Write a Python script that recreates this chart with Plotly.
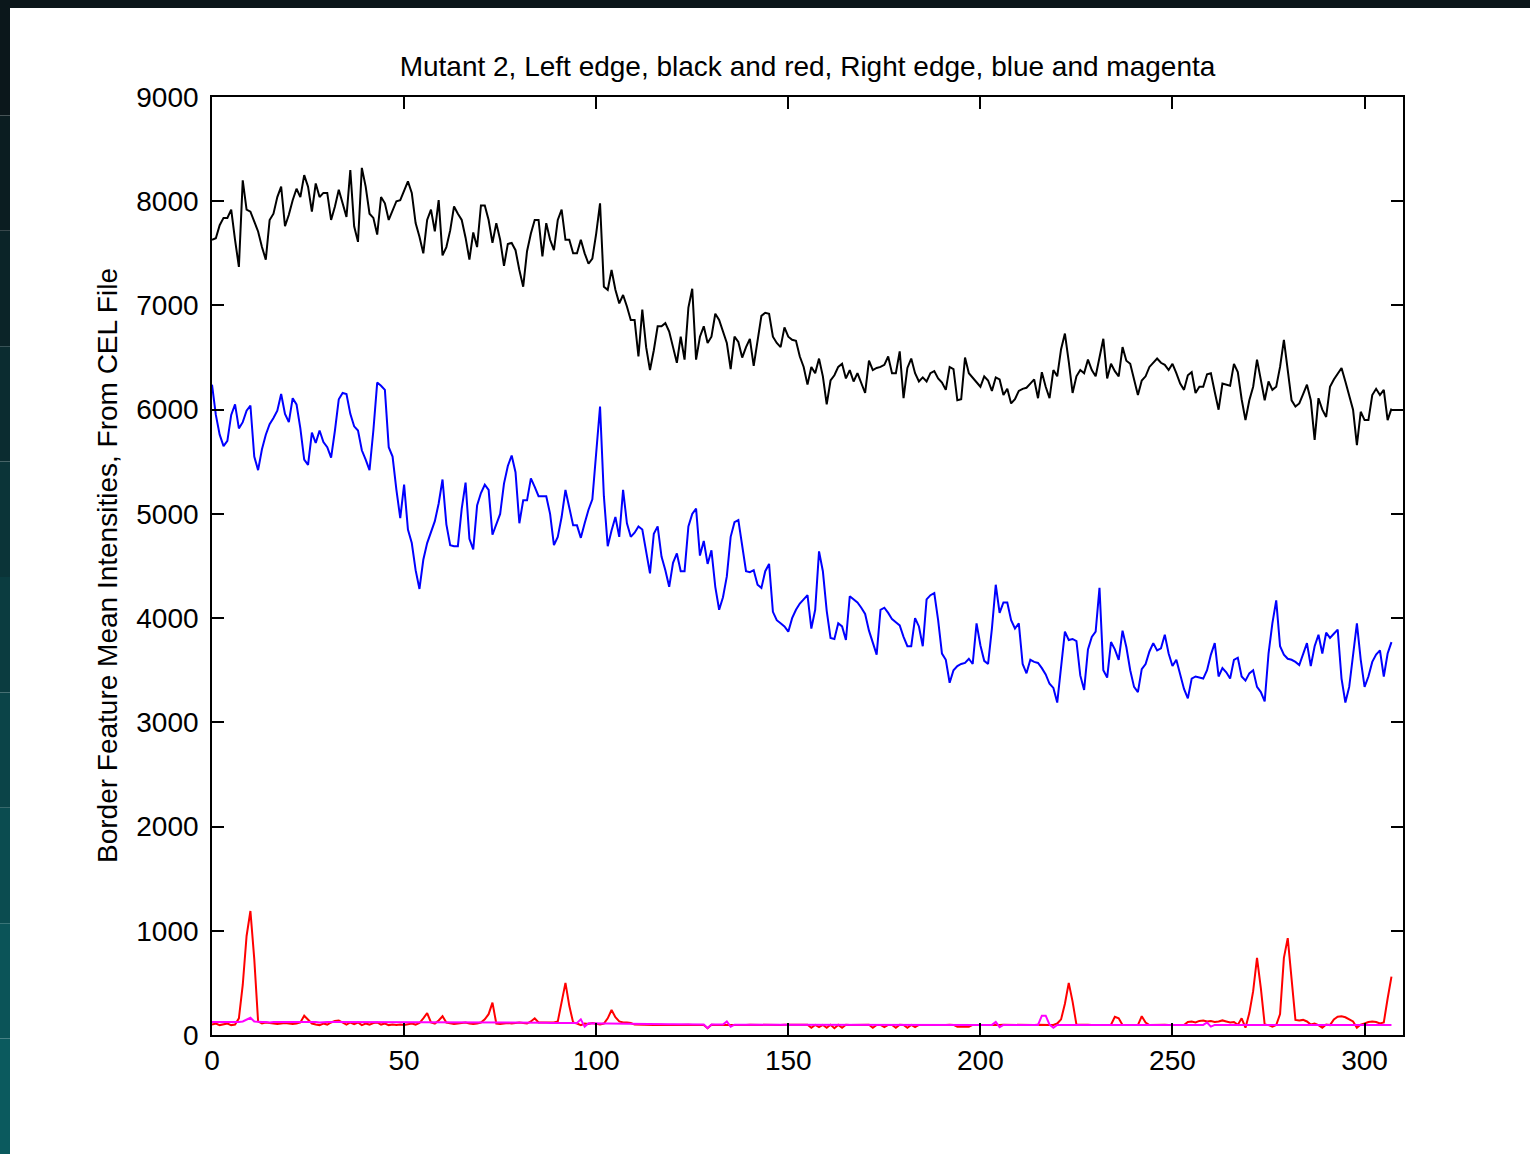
import plotly.graph_objects as go

# Border feature mean intensities along the chip edge (sample index 0..307)
left_edge_mean = [
    7630, 7645, 7770, 7840, 7840, 7920, 7630, 7370, 8200, 7920,
    7900, 7800, 7710, 7560, 7440, 7820, 7880, 8040, 8140, 7760,
    7870, 8010, 8120, 8040, 8250, 8140, 7900, 8170, 8040, 8080,
    8080, 7820, 7950, 8110, 7980, 7850, 8300, 7760, 7610, 8320,
    8140, 7880, 7840, 7680, 8040, 7980, 7820, 7920, 8000, 8010,
    8110, 8190, 8080, 7790, 7660, 7500, 7820, 7920, 7710, 8010,
    7480, 7560, 7720, 7950, 7880, 7820, 7650, 7440, 7700, 7560,
    7960, 7960, 7820, 7600, 7790, 7630, 7380, 7590, 7600, 7530,
    7340, 7180, 7520, 7690, 7820, 7820, 7470, 7790, 7630, 7530,
    7820, 7920, 7630, 7630, 7500, 7500, 7630, 7500, 7400, 7450,
    7690, 7980, 7180, 7150, 7340, 7150, 7020, 7100, 6990, 6860,
    6860, 6510, 6960, 6600, 6380, 6570, 6800, 6800, 6830, 6750,
    6600, 6450, 6700, 6480, 6980, 7160, 6480, 6700, 6800, 6640,
    6700, 6920, 6860, 6760, 6640, 6390, 6700, 6650, 6500, 6600,
    6680, 6420, 6640, 6900, 6930, 6920, 6700, 6640, 6600, 6790,
    6700, 6670, 6660, 6510, 6410, 6240, 6410, 6350, 6490, 6320,
    6050, 6280, 6330, 6410, 6440, 6300, 6380, 6270, 6350, 6250,
    6160, 6470, 6380, 6400, 6410, 6430, 6510, 6350, 6350, 6560,
    6110, 6400, 6490, 6350, 6270, 6310, 6270, 6350, 6370, 6300,
    6260, 6190, 6410, 6390, 6090, 6100, 6500, 6350, 6310, 6260,
    6220, 6320, 6280, 6180, 6310, 6290, 6140, 6200, 6060, 6100,
    6180, 6200, 6210, 6250, 6290, 6110, 6360, 6220, 6110, 6380,
    6320, 6580, 6730, 6460, 6160, 6320, 6380, 6350, 6480, 6380,
    6320, 6500, 6680, 6300, 6440, 6370, 6320, 6600, 6470, 6440,
    6300, 6140, 6280, 6320, 6410, 6450, 6490, 6450, 6430, 6380,
    6440, 6350, 6250, 6190, 6330, 6360, 6160, 6220, 6220, 6340,
    6350, 6170, 6000, 6250, 6240, 6230, 6440, 6360, 6100, 5900,
    6090, 6220, 6480, 6280, 6090, 6270, 6190, 6220, 6410, 6670,
    6380, 6090, 6030, 6060, 6150, 6240, 6090, 5710, 6110, 6000,
    5930, 6220, 6290, 6350, 6400, 6270, 6120, 6000, 5660, 5980,
    5900, 5900, 6140, 6200, 6140, 6190, 5900, 6010,
]

right_edge_mean = [
    6240, 5950, 5760, 5650, 5700, 5950, 6050, 5820, 5880, 5990,
    6040, 5550, 5420, 5620, 5760, 5860, 5920, 5990, 6150, 5960,
    5880, 6110, 6050, 5820, 5520, 5470, 5780, 5680, 5800, 5690,
    5640, 5540, 5800, 6100, 6160, 6150, 5960, 5840, 5800, 5610,
    5520, 5420, 5800, 6260, 6230, 6190, 5640, 5550, 5230, 4960,
    5280, 4850, 4720, 4460, 4280, 4560, 4720, 4820, 4930, 5100,
    5330, 4900, 4700, 4690, 4690, 5050, 5300, 4760, 4660, 5080,
    5200, 5280, 5230, 4800, 4900, 5000, 5290, 5460, 5560, 5400,
    4910, 5130, 5130, 5340, 5260, 5170, 5170, 5170, 5000, 4700,
    4780, 4970, 5230, 5070, 4890, 4890, 4770, 4910, 5040, 5140,
    5580, 6030, 5170, 4690, 4840, 4970, 4780, 5230, 4910, 4780,
    4820, 4880, 4850, 4620, 4430, 4810, 4880, 4590, 4460, 4300,
    4530, 4620, 4450, 4450, 4880, 5000, 5050, 4600, 4740, 4520,
    4650, 4300, 4080, 4200, 4400, 4780, 4920, 4940, 4700, 4450,
    4440, 4460, 4320, 4290, 4450, 4520, 4060, 3980, 3950, 3920,
    3870, 4000, 4080, 4140, 4180, 4220, 3900, 4080, 4640, 4450,
    4070, 3810, 3800, 3950, 3920, 3790, 4210, 4180, 4150, 4100,
    4040, 3880, 3760, 3650, 4080, 4100, 4050, 3990, 3960, 3930,
    3820, 3730, 3730, 4000, 3920, 3730, 4180, 4220, 4240, 3980,
    3660, 3600, 3380, 3500, 3540, 3560, 3570, 3610, 3560, 3950,
    3740, 3590, 3560, 3900, 4320, 4050, 4150, 4150, 3980, 3900,
    3950, 3560, 3470, 3600, 3580, 3570, 3520, 3460, 3370, 3330,
    3190, 3550, 3870, 3790, 3800, 3780, 3450, 3310, 3700, 3820,
    3870, 4290, 3500, 3430, 3770, 3700, 3600, 3880, 3720, 3500,
    3340, 3290, 3510, 3560, 3680, 3760, 3690, 3710, 3840, 3660,
    3540, 3600, 3460, 3320, 3230, 3420, 3440, 3430, 3420, 3500,
    3650, 3760, 3440, 3520, 3480, 3420, 3600, 3620, 3440, 3400,
    3470, 3500, 3340, 3290, 3200, 3660, 3950, 4170, 3730, 3650,
    3610, 3600, 3580, 3550, 3660, 3760, 3540, 3730, 3840, 3660,
    3860, 3810, 3850, 3890, 3420, 3190, 3340, 3630, 3950, 3600,
    3340, 3440, 3580, 3650, 3690, 3440, 3660, 3770,
]

left_edge_bg = [
    100, 110, 95, 100, 110, 95, 100, 160, 480, 950,
    1190, 730, 130, 110, 120, 115, 110, 105, 110, 115,
    110, 105, 110, 120, 185, 150, 110, 100, 95, 110,
    100, 120, 135, 140, 120, 100, 120, 105, 120, 95,
    110, 100, 115, 120, 100, 110, 95, 100, 95, 100,
    95, 100, 110, 100, 115, 160, 210, 120, 110, 140,
    180, 120, 110, 105, 110, 115, 120, 110, 105, 110,
    120, 150, 200, 310, 110, 105, 110, 115, 110, 115,
    120, 115, 110, 130, 160, 120, 120, 125, 120, 120,
    130, 330, 500, 280, 120, 110, 95, 110, 105, 115,
    110, 100, 110, 160, 240, 170, 130, 120, 120, 115,
    100, 98, 95, 100, 97, 96, 98, 100, 97, 95,
    98, 97, 96, 100, 98, 97, 95, 98, 97, 65,
    98, 97, 96, 98, 100, 97, 95, 98, 97, 96,
    98, 97, 96, 98, 97, 95, 98, 97, 96, 98,
    97, 95, 98, 97, 96, 98, 70, 97, 75, 96,
    70, 98, 65, 97, 70, 98, 97, 96, 98, 97,
    95, 98, 70, 97, 96, 75, 97, 96, 70, 98,
    97, 70, 96, 75, 97, 96, 98, 97, 95, 98,
    97, 96, 98, 97, 80, 80, 82, 80, 97, 96,
    98, 97, 96, 98, 97, 95, 98, 97, 96, 98,
    97, 95, 98, 97, 96, 98, 100, 100, 97, 96,
    110, 150, 300, 500, 320, 100, 97, 96, 98, 97,
    95, 98, 97, 96, 98, 175, 160, 97, 96, 98,
    97, 95, 180, 120, 96, 98, 97, 95, 98, 97,
    96, 98, 97, 95, 125, 130, 120, 135, 140, 130,
    135, 125, 130, 140, 130, 120, 125, 97, 160, 70,
    210, 420, 740, 450, 100, 95, 80, 95, 200, 740,
    930, 560, 145, 140, 145, 130, 100, 110, 95, 70,
    100, 95, 150, 175, 180, 170, 150, 130, 70, 100,
    110, 125, 130, 125, 110, 120, 350, 560,
]

right_edge_bg = [
    125, 125, 120, 125, 125, 120, 125, 125, 130, 150,
    165, 130, 125, 125, 125, 120, 125, 125, 125, 125,
    125, 125, 125, 130, 125, 125, 125, 125, 120, 125,
    125, 125, 125, 125, 125, 125, 125, 120, 125, 125,
    125, 125, 125, 125, 125, 125, 125, 125, 125, 125,
    120, 120, 120, 120, 120, 120, 120, 120, 120, 120,
    120, 120, 120, 120, 120, 120, 120, 120, 120, 120,
    118, 118, 118, 118, 118, 118, 118, 118, 118, 118,
    118, 118, 118, 118, 118, 118, 118, 118, 115, 115,
    115, 115, 115, 115, 115, 115, 150, 80, 112, 110,
    110, 110, 110, 110, 110, 108, 108, 108, 108, 108,
    105, 105, 105, 105, 105, 103, 103, 103, 103, 103,
    102, 102, 102, 102, 101, 101, 101, 100, 100, 65,
    100, 100, 100, 100, 130, 80, 99, 99, 99, 99,
    98, 98, 98, 98, 98, 98, 98, 98, 98, 98,
    98, 98, 98, 98, 98, 98, 98, 98, 98, 98,
    97, 97, 97, 97, 97, 97, 97, 97, 97, 97,
    97, 97, 97, 97, 97, 97, 97, 97, 97, 97,
    97, 97, 97, 97, 97, 97, 97, 97, 97, 97,
    97, 97, 97, 97, 97, 97, 97, 97, 97, 97,
    97, 97, 97, 97, 125, 75, 97, 97, 97, 97,
    97, 97, 97, 97, 97, 97, 185, 185, 100, 70,
    97, 97, 97, 97, 97, 97, 97, 97, 97, 97,
    97, 97, 97, 97, 97, 97, 97, 97, 97, 97,
    97, 97, 97, 97, 97, 97, 97, 97, 97, 97,
    97, 97, 97, 97, 97, 97, 97, 97, 97, 120,
    80, 97, 97, 97, 97, 97, 97, 97, 97, 97,
    97, 97, 97, 97, 97, 97, 97, 97, 97, 97,
    97, 97, 97, 97, 97, 97, 97, 97, 97, 97,
    97, 97, 97, 97, 97, 97, 97, 97, 97, 97,
    97, 97, 97, 97, 97, 97, 97, 97,
]

x_ticks = [0, 50, 100, 150, 200, 250, 300]
y_ticks = [0, 1000, 2000, 3000, 4000, 5000, 6000, 7000, 8000, 9000]

title_text = "Mutant 2, Left edge, black and red, Right edge, blue and magenta"
ylabel_text = "Border Feature Mean Intensities, From CEL File"

W, H = 1530, 1154
L, R, T, B = 212, 127, 97, 119
PW, PH = W - L - R, H - T - B

FONT = "Liberation Sans"

fig = go.Figure()
series = [
    (left_edge_mean, "#000000"),
    (right_edge_mean, "#0000ff"),
    (left_edge_bg, "#ff0000"),
    (right_edge_bg, "#ff00ff"),
]
for vals, col in series:
    fig.add_trace(go.Scatter(
        x=list(range(len(vals))), y=vals, mode="lines",
        line=dict(color=col, width=2), hoverinfo="skip", showlegend=False,
    ))


def px_x(p):
    return (p - L) / PW


def px_y(p):
    return (H - B - p) / PH


# dark window frame along the top and left edges
shapes = [
    dict(type="rect", xref="paper", yref="paper", layer="below",
         x0=px_x(0), x1=px_x(W), y0=px_y(0), y1=px_y(8),
         fillcolor="#0b161a", line=dict(width=0)),
]
frame_cols = ["#0b171b", "#0b1d21", "#0b2428", "#0b2c30", "#0b3438",
              "#0b3c40", "#0b4448", "#0b4c50", "#0b5458", "#0b5a5e"]
n = len(frame_cols)
for i, c in enumerate(frame_cols):
    shapes.append(dict(type="rect", xref="paper", yref="paper", layer="below",
                       x0=px_x(0), x1=px_x(10),
                       y0=px_y(H * i / n), y1=px_y(H * (i + 1) / n),
                       fillcolor=c, line=dict(width=0)))

axis_common = dict(
    showline=True, linecolor="#000000", linewidth=1.6, mirror="allticks",
    ticks="inside", ticklen=12, tickwidth=1.6, tickcolor="#000000",
    showgrid=False, zeroline=False,
    tickfont=dict(family=FONT, size=28, color="#000000"),
)

fig.update_layout(
    width=W, height=H,
    margin=dict(l=L, r=R, t=T, b=B, autoexpand=False),
    paper_bgcolor="#ffffff", plot_bgcolor="#ffffff",
    shapes=shapes,
    xaxis=dict(range=[0, 310], tickvals=x_ticks, ticktext=[str(v) for v in x_ticks],
               **axis_common),
    yaxis=dict(range=[0, 9000], tickvals=y_ticks, ticktext=[str(v) for v in y_ticks],
               ticklabelstandoff=6, **axis_common),
    title=dict(text=title_text, font=dict(family=FONT, size=28, color="#000000"),
               xref="paper", x=0.5, xanchor="center",
               yref="container", y=1 - 66 / H, yanchor="middle"),
    annotations=[dict(text=ylabel_text, textangle=-90, showarrow=False,
                      xref="paper", yref="paper", x=px_x(107), y=0.5,
                      xanchor="center", yanchor="middle",
                      font=dict(family=FONT, size=28, color="#000000"))],
)

fig.write_html("out.html")
